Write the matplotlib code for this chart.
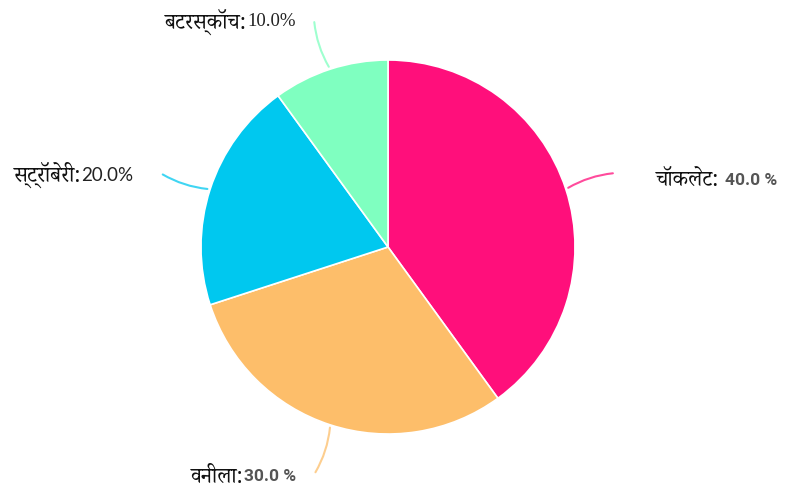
import numpy as np
import matplotlib
matplotlib.use("Agg")
import matplotlib.pyplot as plt
from matplotlib import font_manager
from fontTools.ttLib import TTFont

# data
flavours = ["चॉकलेट", "वनीला", "स्ट्रॉबेरी", "बटरस्कॉच"]
shares = [40, 30, 20, 10]
pct_labels = ["40.0 %", "30.0 %", "20.0%", "10.0%"]
colors = ["#FF0F7B", "#FDBE6A", "#00C8EF", "#7FFFC0"]


def find_devanagari_font():
    found = set()
    for f in font_manager.fontManager.ttflist:
        try:
            cmap = TTFont(f.fname, fontNumber=0, lazy=True).getBestCmap()
        except Exception:
            continue
        if cmap and 0x0915 in cmap:
            found.add(f.name)
    for pref in ["Noto Serif Devanagari", "Martel", "Tiro Devanagari Hindi",
                 "Noto Sans Devanagari", "Hind", "Mukta", "Arya"]:
        if pref in found:
            return pref
    return sorted(found)[0] if found else None


deva = find_devanagari_font()
name_family = [deva, "DejaVu Sans"] if deva else ["DejaVu Sans"]

fig = plt.figure(figsize=(7.9, 4.91), dpi=100)
ax = fig.add_axes([0, 0, 1, 1])

cx, cy, r = 388, 491 - 247, 187
wedges, _ = ax.pie(shares, colors=colors, startangle=90, counterclock=False,
                   center=(cx, cy), radius=r, frame=True,
                   wedgeprops=dict(edgecolor="white", linewidth=1.2))
ax.set_xlim(0, 790)
ax.set_ylim(0, 491)
ax.axis("off")

# percent text styles (the first two are bold grey, the others plain)
pct_styles = [
    dict(color="#555555", fontweight="bold", family="Roboto", fontsize=12.5),
    dict(color="#555555", fontweight="bold", family="Roboto", fontsize=12.5),
    dict(color="#222222", fontweight="normal", family="Lato", fontsize=13.5),
    dict(color="#222222", fontweight="normal", family="Liberation Serif", fontsize=13.5),
]

for w, name, pct, col, st in zip(wedges, flavours, pct_labels, colors, pct_styles):
    ang = np.deg2rad((w.theta1 + w.theta2) / 2)
    x0, y0 = cx + r * np.cos(ang), cy + r * np.sin(ang)
    x1, y1 = cx + 1.28 * r * np.cos(ang), cy + 1.28 * r * np.sin(ang)
    ax.annotate("", xy=(x1, y1), xytext=(x0, y0),
                arrowprops=dict(arrowstyle="-", color=col, lw=1.5, alpha=0.75,
                                connectionstyle="arc3,rad=-0.12"))
    if np.cos(ang) > 0:
        t = ax.text(x1 + 40, y1 - 7, name + ": ", fontsize=15.5, fontweight="bold",
                    family=name_family, ha="left", va="center", color="#111111")
        ax.annotate(pct, xy=(1, 0.5), xycoords=t, ha="left", va="center", **st)
    else:
        gap = 14 + 14 * abs(np.cos(ang))
        t = ax.annotate(pct, xy=(x1 - gap, y1 - 2), ha="right", va="center", **st)
        ax.annotate(name + ":", xy=(0, 0.5), xycoords=t, ha="right", va="center",
                    fontsize=15.5, fontweight="bold", family=name_family, color="#111111")

fig.savefig("out.png", dpi=100)
